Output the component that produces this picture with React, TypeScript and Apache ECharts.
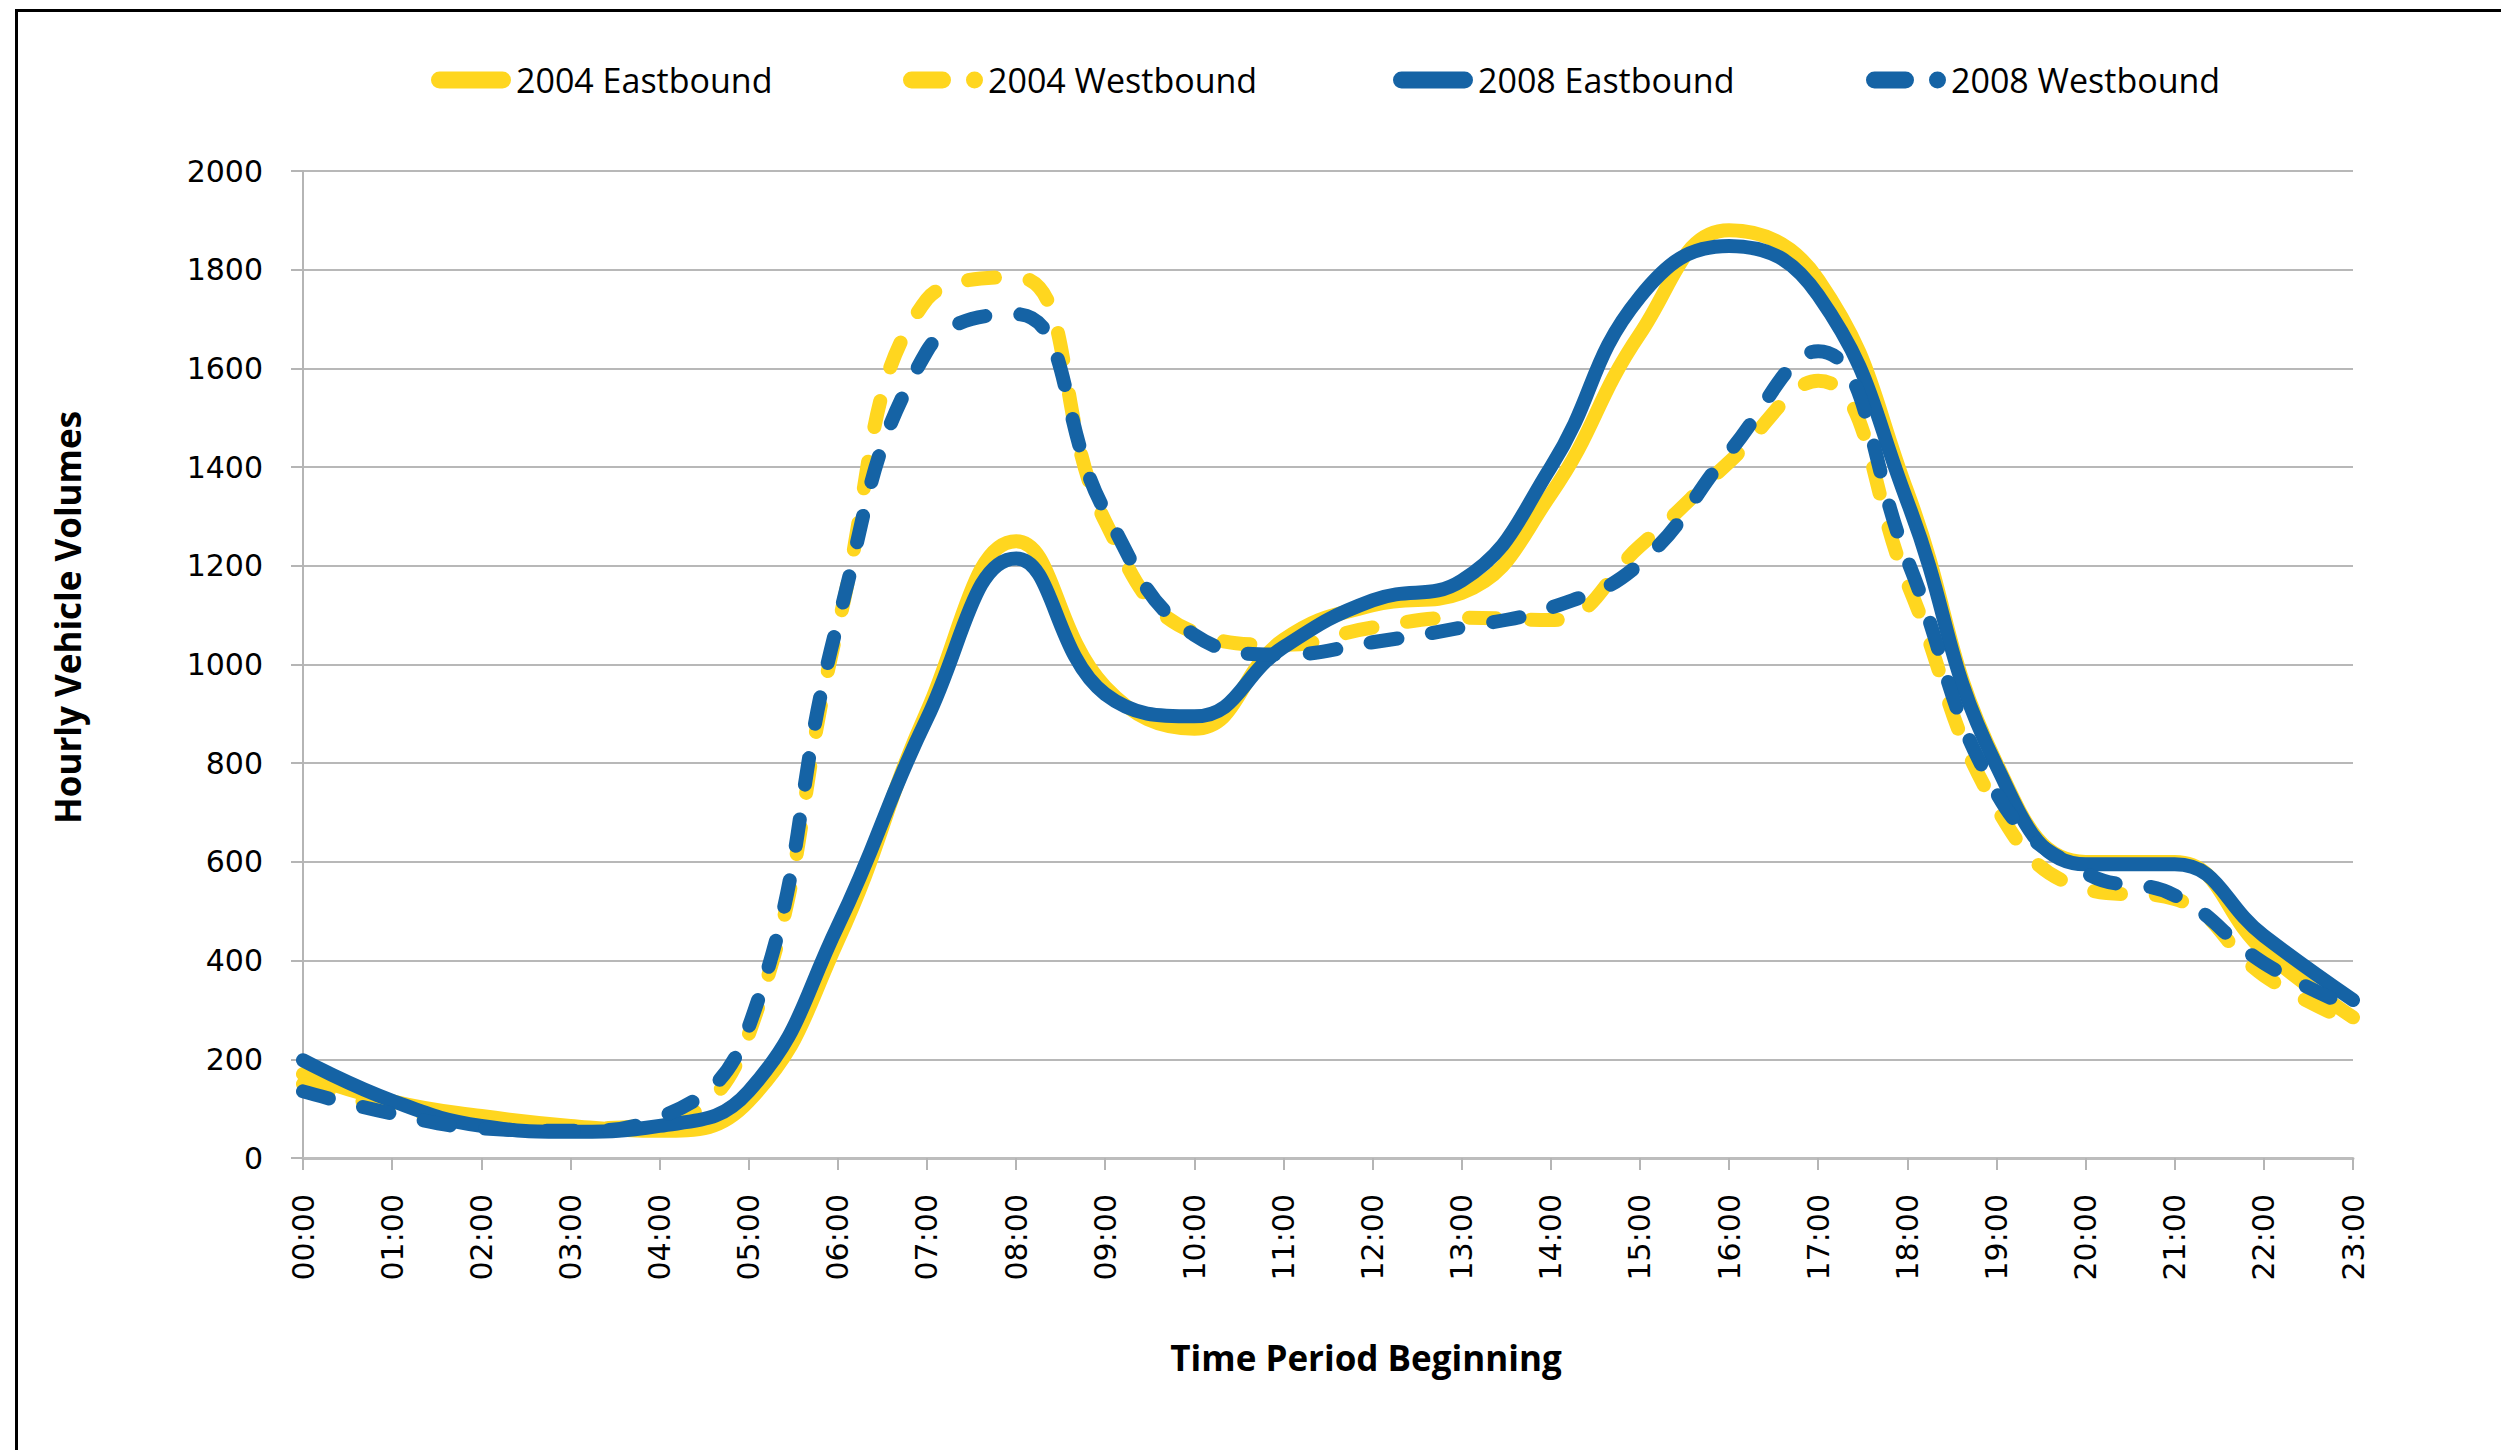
import React, { useEffect, useRef } from 'react';
import * as echarts from 'echarts';

const timeLabels = [
  '00:00', '01:00', '02:00', '03:00', '04:00', '05:00', '06:00', '07:00',
  '08:00', '09:00', '10:00', '11:00', '12:00', '13:00', '14:00', '15:00',
  '16:00', '17:00', '18:00', '19:00', '20:00', '21:00', '22:00', '23:00',
];

const eastbound2004 = [
  170, 115, 85, 65, 55, 115, 440, 905, 1250, 955, 870, 1050,
  1120, 1145, 1345, 1670, 1880, 1780, 1350, 800, 600, 600, 420, 285,
];

const westbound2004 = [
  150, 100, 70, 60, 70, 250, 1075, 1740, 1785, 1290, 1065, 1040,
  1075, 1095, 1090, 1240, 1410, 1575, 1165, 710, 545, 525, 370, 275,
];

const eastbound2008 = [
  198, 116, 65, 53, 65, 135, 470, 890, 1215, 940, 895, 1035,
  1130, 1170, 1400, 1745, 1848, 1748, 1330, 795, 595, 595, 450, 320,
];

const westbound2008 = [
  135, 90, 60, 55, 82, 265, 1085, 1635, 1710, 1310, 1060, 1020,
  1045, 1075, 1115, 1205, 1430, 1635, 1212, 740, 578, 532, 395, 305,
];

const seriesNames = ['2004 Eastbound', '2004 Westbound', '2008 Eastbound', '2008 Westbound'];

const YELLOW = '#FFD61F';
const BLUE = '#1563A5';

const SOLID_ICON =
  'path://M8.5,0H71.5A8.5,8.5,0,0,1,71.5,17H8.5A8.5,8.5,0,0,1,8.5,0Z';
const DASH_ICON =
  'path://M8.5,0H39.5A8.5,8.5,0,0,1,39.5,17H8.5A8.5,8.5,0,0,1,8.5,0Z M71.5,0A8.5,8.5,0,0,1,71.5,17A8.5,8.5,0,0,1,71.5,0Z';

const legendLefts = [431, 903, 1393, 1866];

export default function App() {
  const ref = useRef<HTMLDivElement>(null);

  useEffect(() => {
    if (!ref.current) return;
    const chart = echarts.init(ref.current, null, { renderer: 'svg' });

    const lineBase = {
      type: 'line',
      smooth: 0.45,
      showSymbol: false,
      symbol: 'none',
      animation: false,
    };
    const LW = 14;
    const DASH = [27, 35];

    const series = [
      {
        ...lineBase,
        name: seriesNames[0],
        data: eastbound2004,
        itemStyle: { color: YELLOW },
        lineStyle: { color: YELLOW, width: LW, cap: 'round', join: 'round' },
      },
      {
        ...lineBase,
        name: seriesNames[1],
        data: westbound2004,
        itemStyle: { color: YELLOW },
        lineStyle: { color: YELLOW, width: LW, type: DASH, cap: 'round', join: 'round' },
      },
      {
        ...lineBase,
        name: seriesNames[2],
        data: eastbound2008,
        itemStyle: { color: BLUE },
        lineStyle: { color: BLUE, width: LW, cap: 'round', join: 'round' },
      },
      {
        ...lineBase,
        name: seriesNames[3],
        data: westbound2008,
        itemStyle: { color: BLUE },
        lineStyle: { color: BLUE, width: LW, type: DASH, cap: 'round', join: 'round' },
      },
    ];

    const icons = [SOLID_ICON, DASH_ICON, SOLID_ICON, DASH_ICON];

    const option = {
      animation: false,
      backgroundColor: '#ffffff',
      grid: { left: 303, right: 148, top: 171, bottom: 292, containLabel: false },
      legend: seriesNames.map((name, i) => ({
        data: [{ name, icon: icons[i] }],
        left: legendLefts[i],
        top: 60,
        padding: 0,
        itemWidth: 80,
        itemHeight: 17,
        selectedMode: false,
        itemStyle: { borderWidth: 0 },
        textStyle: {
          fontFamily: 'Open Sans',
          fontSize: 34,
          lineHeight: 40,
          color: '#000',
        },
      })),
      xAxis: {
        type: 'category',
        data: timeLabels,
        boundaryGap: false,
        name: 'Time Period Beginning',
        nameLocation: 'middle',
        nameGap: 182,
        nameTextStyle: {
          fontFamily: 'Open Sans',
          fontWeight: 'bold',
          fontSize: 35,
          color: '#000',
          padding: [0, 0, 0, 76],
        },
        axisLine: { show: true, lineStyle: { color: '#bdbdbd', width: 3 } },
        axisTick: { show: true, length: 12, interval: 0, lineStyle: { color: '#b5b5b5', width: 2 } },
        axisLabel: {
          interval: 0,
          rotate: 90,
          margin: 36,
          fontFamily: 'DejaVu Sans',
          fontSize: 30,
          color: '#000',
        },
        splitLine: { show: false },
      },
      yAxis: {
        type: 'value',
        min: 0,
        max: 2000,
        interval: 200,
        name: 'Hourly Vehicle Volumes',
        nameLocation: 'middle',
        nameGap: 218,
        nameRotate: 90,
        nameTextStyle: {
          fontFamily: 'Open Sans',
          fontWeight: 'bold',
          fontSize: 35,
          color: '#000',
          padding: [0, 0, 0, 94],
        },
        axisLine: { show: true, lineStyle: { color: '#b5b5b5', width: 2 } },
        axisTick: { show: true, length: 12, lineStyle: { color: '#b5b5b5', width: 2 } },
        axisLabel: {
          margin: 40,
          fontFamily: 'DejaVu Sans',
          fontSize: 30,
          color: '#000',
          formatter: (v: number) => String(v),
        },
        splitLine: { show: true, lineStyle: { color: '#b8b8b8', width: 2 } },
      },
      graphic: [
        {
          type: 'rect',
          silent: true,
          shape: { x: 16.5, y: 10.5, width: 3000, height: 3000 },
          style: { fill: 'none', stroke: '#000', lineWidth: 3 },
          z: -10,
        },
      ],
      series,
    };

    chart.setOption(option as any);
    return () => {
      chart.dispose();
    };
  }, []);

  return (
    <div
      ref={ref}
      style={{ position: 'fixed', left: 0, top: 0, width: 2501, height: 1450, background: '#fff' }}
    />
  );
}
